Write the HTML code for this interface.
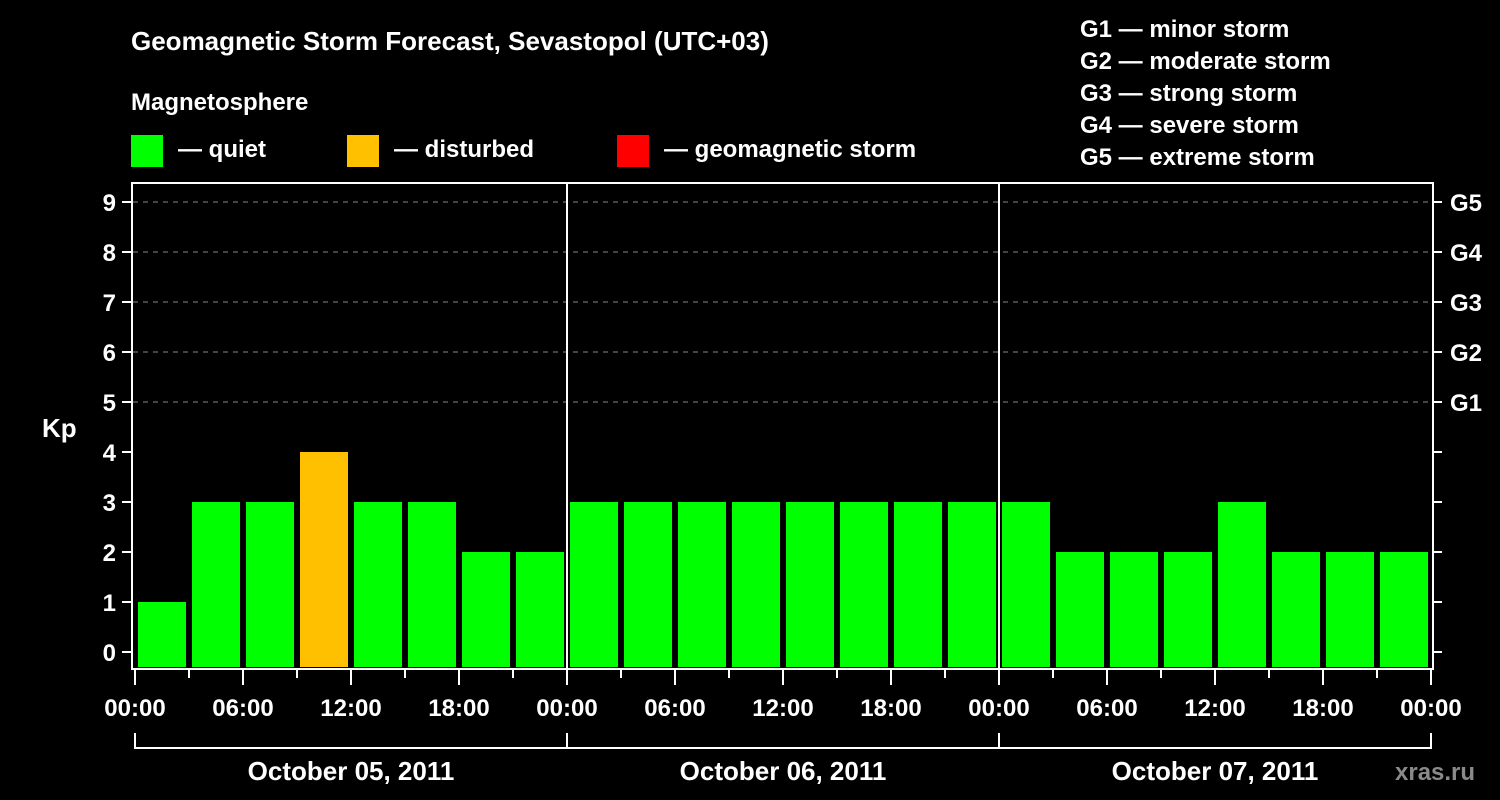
<!DOCTYPE html>
<html><head><meta charset="utf-8"><style>
body{margin:0;background:#000;width:1500px;height:800px;overflow:hidden}
svg{display:block}
text{font-family:"Liberation Sans",Arial,sans-serif;font-weight:bold;fill:#fff}
</style></head><body>
<svg id="c" width="1500" height="800">
<text x="131" y="50" font-size="26">Geomagnetic Storm Forecast, Sevastopol (UTC+03)</text>
<text x="131" y="110" font-size="24">Magnetosphere</text>
<rect x="131" y="135" width="32" height="32" fill="#00ff00"/>
<text x="178" y="157" font-size="24">— quiet</text>
<rect x="347" y="135" width="32" height="32" fill="#ffc000"/>
<text x="394" y="157" font-size="24">— disturbed</text>
<rect x="617" y="135" width="32" height="32" fill="#ff0000"/>
<text x="664" y="157" font-size="24">— geomagnetic storm</text>
<g font-size="24">
<text x="1080" y="37">G1 — minor storm</text>
<text x="1080" y="69">G2 — moderate storm</text>
<text x="1080" y="101">G3 — strong storm</text>
<text x="1080" y="133">G4 — severe storm</text>
<text x="1080" y="165">G5 — extreme storm</text>
</g>
<text x="42" y="437" font-size="26">Kp</text>
<text x="1395" y="780" font-size="24" fill="#888" style="fill:#8a8a8a">xras.ru</text>
</svg>
<script>
const kpValues=[1,3,3,4,3,3,2,2,3,3,3,3,3,3,3,3,3,2,2,2,3,2,2,2];
const kpTicks=[0,1,2,3,4,5,6,7,8,9];
const gLabels=["G1","G2","G3","G4","G5"];
const gLevels=[5,6,7,8,9];
const hourLabels=["00:00","06:00","12:00","18:00"];
const dayLabels=["October 05, 2011","October 06, 2011","October 07, 2011"];
const NS="http://www.w3.org/2000/svg";
const svg=document.getElementById('c');
const X0=135,X1=1431,TOTAL=72;
const x=h=>X0+(X1-X0)*h/TOTAL;
const y=v=>652-50*v;
function mk(t,a,p){const e=document.createElementNS(NS,t);for(const k in a)e.setAttribute(k,a[k]);(p||svg).appendChild(e);return e;}
// grid
kpTicks.forEach(v=>{
  if(v>=5){const g=mk('line',{x1:133,x2:1431,y1:y(v),y2:y(v),stroke:'#888','stroke-dasharray':'5,5','stroke-width':1});
  
  }
  const t=mk('line',{x1:122,x2:132,y1:y(v),y2:y(v),stroke:'#fff','stroke-width':2});
  
  
  const r=mk('line',{x1:1433,x2:1442,y1:y(v),y2:y(v),stroke:'#fff','stroke-width':2});
  
  
  const l=mk('text',{x:116,y:y(v)+9,'font-size':24,'text-anchor':'end'});l.textContent=v;
  
  
});
gLabels.forEach((g,i)=>{const l=mk('text',{x:1450,y:y(gLevels[i])+9,'font-size':24});l.textContent=g;
  
  });
// bars
kpValues.forEach((v,i)=>{
  const col=v>=5?'#ff0000':(v>=4?'#ffc000':'#00ff00');
  const b=mk('rect',{x:x(i*3)+3,y:y(v),width:x(3)-x(0)-6,height:667-y(v),fill:col});
  
  
});
// frame
const f=mk('rect',{x:132,y:183,width:1301,height:486,fill:'none',stroke:'#fff','stroke-width':2});


[24,48].forEach(h=>{const d=mk('line',{x1:x(h),x2:x(h),y1:183,y2:669,stroke:'#fff','stroke-width':2});
  
  });
// x ticks
for(let h=0;h<=TOTAL;h+=3){
  const major=h%6===0;
  const t=mk('line',{x1:x(h),x2:x(h),y1:669,y2:major?685:678,stroke:'#fff','stroke-width':2});
  
  
  if(major){const l=mk('text',{x:x(h),y:716,'font-size':24,'text-anchor':'middle'});
    l.textContent=hourLabels[(h/6)%4];
    
    }
}
// day brackets
const br=mk('line',{x1:x(0),x2:x(72),y1:748,y2:748,stroke:'#fff','stroke-width':2});


[0,24,48,72].forEach(h=>{const v=mk('line',{x1:x(h),x2:x(h),y1:733,y2:749,stroke:'#fff','stroke-width':2});
  
  });
dayLabels.forEach((d,i)=>{const l=mk('text',{x:x(i*24+12),y:780,'font-size':26,'text-anchor':'middle'});l.textContent=d;
  
  });
</script>
</body></html>
